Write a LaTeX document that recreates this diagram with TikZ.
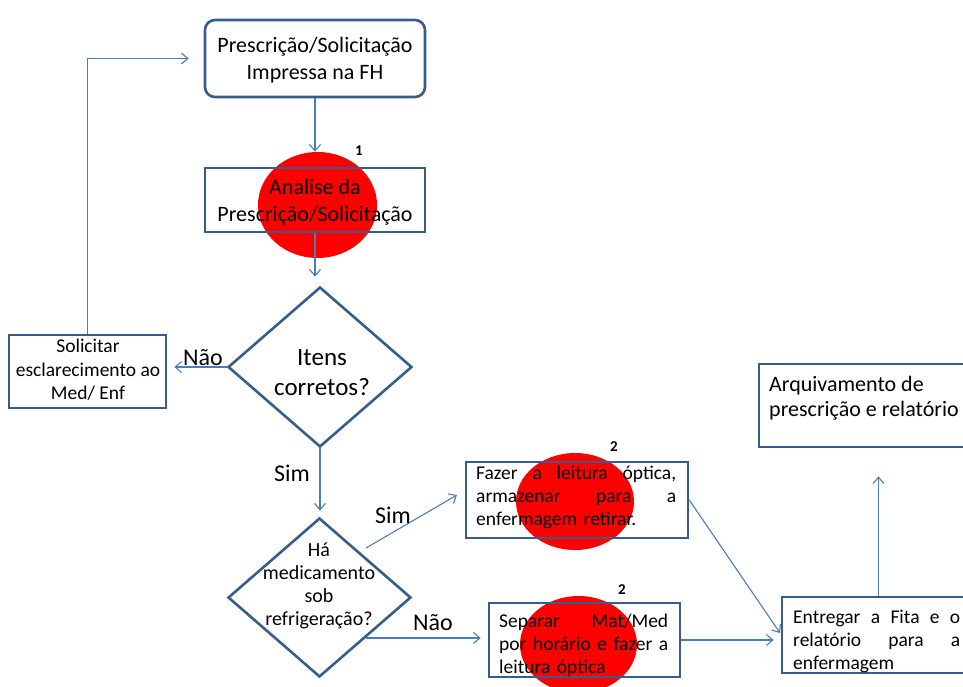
\documentclass[tikz,border=0pt]{standalone}
\usepackage{fontspec}
\setmainfont{Carlito}
\usetikzlibrary{shapes.geometric,arrows.meta,calc}

\definecolor{boxline}{HTML}{385D8A}
\definecolor{linkline}{HTML}{4A7EBB}
\definecolor{spot}{HTML}{FF0000}

\begin{document}
\begin{tikzpicture}[x=1pt,y=-1pt,
  box/.style={draw=boxline, line width=2.6pt, inner sep=0pt},
  decision/.style={diamond, draw=boxline, line width=2.6pt, inner sep=0pt},
  spotmark/.style={ellipse, fill=spot, inner sep=0pt},
  link/.style={draw=linkline, line width=1.1pt, -{Straight Barb[length=6.5pt,width=11pt]}},
  lbl/.style={font=\fontsize{24}{29}\selectfont, inner sep=0pt},
  num/.style={font=\bfseries\fontsize{15}{17}\selectfont, inner sep=0pt},
  txt/.style={inner sep=0pt, align=center},
  jtxt/.style={inner sep=0pt, align=left, anchor=west, font=\fontsize{19.5}{23}\selectfont}
]
\useasboundingbox (0,0) rectangle (963,686);
\clip (0,0) rectangle (963,686);

% red markers behind the boxes
\node[spotmark, minimum width=119pt, minimum height=106pt] (r1) at (317.5,205) {};
\node[spotmark, minimum width=118pt, minimum height=97pt] (r2) at (575,501.5) {};
\node[spotmark, minimum width=117pt, minimum height=97pt] (r3) at (578.5,644.5) {};

% boxes
\node[box, rounded corners=10pt, minimum width=220pt, minimum height=77pt] (b1) at (315,58.5) {};
\node[box, minimum width=220pt, minimum height=64pt] (b2) at (315,200) {};
\node[decision, minimum width=184pt, minimum height=160pt] (d1) at (320,367) {};
\node[box, minimum width=157pt, minimum height=73pt] (s) at (87.5,371.5) {};
\node[decision, minimum width=183pt, minimum height=159pt] (d2) at (319.5,597.5) {};
\node[box, minimum width=222pt, minimum height=76pt] (fz) at (577,500) {};
\node[box, minimum width=191pt, minimum height=74pt] (sp) at (584.5,640) {};
\node[box, minimum width=193pt, minimum height=76pt] (en) at (878.5,635) {};
\node[box, minimum width=216pt, minimum height=83pt] (ar) at (867,405.5) {};

% free ends of the slanted connectors
\coordinate (simA) at (366,548);
\coordinate (simB) at (457,495);
\coordinate (naoA) at (366,638);
\coordinate (enA) at (780,633);

% connectors
\draw[link] (b1.south) -- (b1.south |- r1.north);
\draw[link, shorten >=9pt] (b2.south) -- (b2.south |- d1.north);
\draw[link, shorten >=7pt] (d1.west) -- (d1.west -| s.east);
\draw[link, shorten >=15pt] (s.north) |- (b1.west);
\draw[link, shorten >=6pt] (d1.south) -- (d1.south |- d2.north);
\draw[link] (simA) -- (simB);
\draw[link, shorten >=7pt] (naoA) -- (naoA -| sp.west);
\draw[link] (fz.east) -- (enA);
\draw[link, shorten >=7pt] (sp.east) -- (sp.east -| en.west);
\draw[link, shorten >=28pt] (en.north) -- (en.north |- ar.south);

% connector labels
\node[lbl] (lnao1) at (203,358) {Não};
\node[lbl] (lsim1) at (292,473) {Sim};
\node[lbl] (lsim2) at (393,515) {Sim};
\node[lbl] (lnao2) at (433,623) {Não};

% step numbers
\node[num] (n1) at (359,151) {1};
\node[num] (n2) at (614,447) {2};
\node[num] (n3) at (622,590) {2};

% texts
\node[txt, font=\fontsize{22}{27}\selectfont] (t1) at (315,60) {Prescrição/Solicitação\\Impressa na FH};
\node[txt, font=\fontsize{22}{27}\selectfont] (t2) at (315,202) {Analise da\\Prescrição/Solicitação};
\node[txt, font=\fontsize{25}{30}\selectfont] (t3) at (322,373) {Itens\\corretos?};
\node[txt, font=\fontsize{19.5}{23.5}\selectfont] (t4) at (88,370) {Solicitar\\esclarecimento ao\\Med/ Enf};
\node[txt, font=\fontsize{20}{23}\selectfont] (t5) at (319,586) {Há\\medicamento\\sob\\refrigeração?};
\node[jtxt, text width=200pt] (t6) at (476,497)
  {Fazer\hfill a\hfill leitura\hfill óptica,\\armazenar\hfill para\hfill a\\enfermagem retirar.};
\node[jtxt, text width=169pt] (t7) at (499,645)
  {Separar\hfill Mat/Med\\por\hfill horário\hfill e\hfill fazer\hfill a\\leitura óptica};
\node[jtxt, text width=167pt] (t8) at (793,641)
  {Entregar\hfill a\hfill Fita\hfill e\hfill o\\relatório\hfill para\hfill a\\enfermagem};
\node[txt, align=left, anchor=west, font=\fontsize{22}{25}\selectfont] (t9) at (769,398)
  {Arquivamento de\\prescrição e relatório};
\end{tikzpicture}
\end{document}
